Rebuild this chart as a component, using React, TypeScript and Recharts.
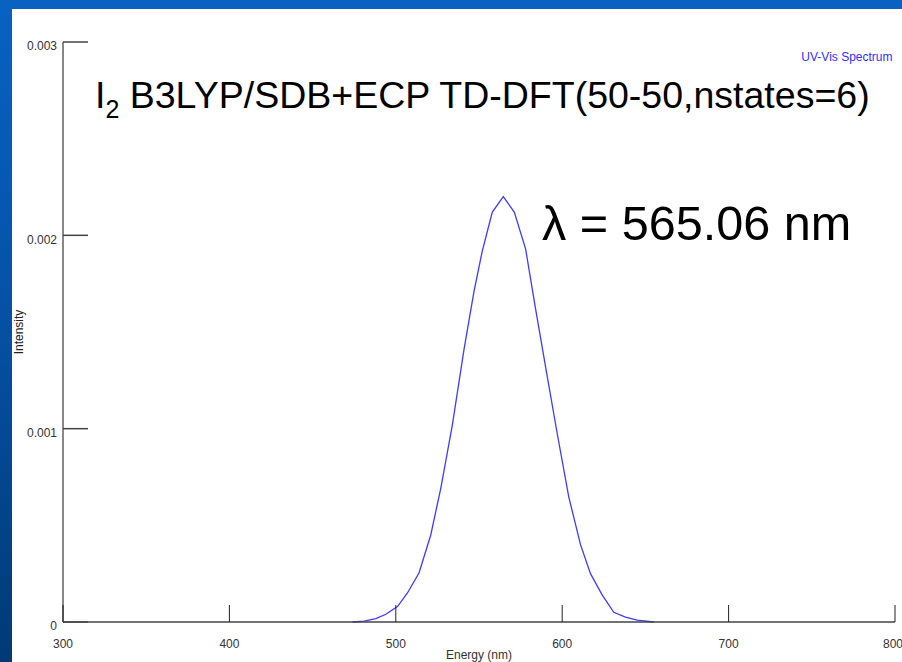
import { LineChart, Line, XAxis, YAxis } from "recharts";

// wavelength (nm) and intensity
const wavelengths = [
  474, 481, 488, 494, 501, 507, 514, 521, 527, 534, 541, 547, 552, 558, 564.6,
  571.2, 578, 584, 591, 597, 604, 611, 617, 624, 631, 638, 645, 655,
];
const intensity = [
  0, 0.000004, 0.000018, 0.00004, 0.00008, 0.00015, 0.000255, 0.00045, 0.00069,
  0.00102, 0.00141, 0.00171, 0.00192, 0.00212, 0.0022, 0.00212, 0.00193,
  0.00162, 0.00127, 0.000975, 0.000645, 0.0004, 0.00025, 0.00014, 0.00005,
  0.000025, 0.00001, 0,
];
const xTicks = [300, 400, 500, 600, 700, 800];
const yTicks = [0, 0.001, 0.002, 0.003];

const data = wavelengths.map((w, i) => ({ nm: w, value: intensity[i] }));

const FONT = "'Liberation Sans', Arial, sans-serif";

export default function App() {
  return (
    <div
      style={{
        position: "fixed",
        left: 0,
        top: 0,
        width: 902,
        height: 662,
        overflow: "hidden",
        background: "linear-gradient(180deg, #0862c2 0%, #0552a8 45%, #003a76 100%)",
      }}
    >
      <div
        style={{
          position: "absolute",
          left: 12,
          top: 9,
          width: 890,
          height: 653,
          overflow: "hidden",
          background: "#fff",
        }}
      >
        <div style={{ position: "absolute", left: -12, top: -9 }}>
          <LineChart
            width={902}
            height={662}
            data={data}
            margin={{ top: 42, right: 7, bottom: 10, left: 13 }}
            style={{ fontFamily: FONT }}
          >
            <XAxis
              dataKey="nm"
              type="number"
              domain={[300, 800]}
              ticks={xTicks}
              height={30}
              stroke="#444"
              strokeWidth={1.5}
              tickSize={-17}
              tickMargin={34}
              tickLine={{ stroke: "#222", strokeWidth: 1 }}
              tick={{ fill: "#333", fontSize: 12 }}
            />
            <XAxis
              xAxisId="top"
              orientation="top"
              type="number"
              domain={[300, 800]}
              height={0}
              tick={false}
              tickLine={false}
              stroke="#555"
            />
            <YAxis
              type="number"
              domain={[0, 0.003]}
              ticks={yTicks}
              width={50}
              stroke="#111"
              tickSize={-25}
              tickMargin={31}
              tickLine={{ stroke: "#444", strokeWidth: 1.5 }}
              tick={{ fill: "#333", fontSize: 12, dy: 4 }}
              tickFormatter={(v: number) => (v === 0 ? "0" : v.toFixed(3))}
            />
            <YAxis
              yAxisId="right"
              orientation="right"
              type="number"
              domain={[0, 0.003]}
              width={0}
              tick={false}
              tickLine={false}
              stroke="#555"
            />
            <Line
              type="linear"
              dataKey="value"
              stroke="#3c3cff"
              strokeWidth={1.3}
              dot={false}
              isAnimationActive={false}
            />
          </LineChart>
          <svg
            width={902}
            height={662}
            style={{ position: "absolute", left: 0, top: 0, pointerEvents: "none", fontFamily: FONT }}
          >
            <text x={95} y={108} fontSize={37.5} fill="#000">
              I
              <tspan fontSize={25} dy={10}>2</tspan>
              <tspan dy={-10}> B3LYP/SDB+ECP TD-DFT(50-50,nstates=6)</tspan>
            </text>
            <text x={542} y={240} fontSize={48.6} fill="#000">
              λ = 565.06 nm
            </text>
            <text x={892.5} y={61} fontSize={12} fill="#2f2fff" textAnchor="end">
              UV-Vis Spectrum
            </text>
            <text
              x={23}
              y={332}
              fontSize={12}
              fill="#222"
              textAnchor="middle"
              transform="rotate(-90 23 332)"
            >
              Intensity
            </text>
            <text x={479} y={659} fontSize={12} fill="#333" textAnchor="middle">
              Energy (nm)
            </text>
          </svg>
        </div>
      </div>
    </div>
  );
}
